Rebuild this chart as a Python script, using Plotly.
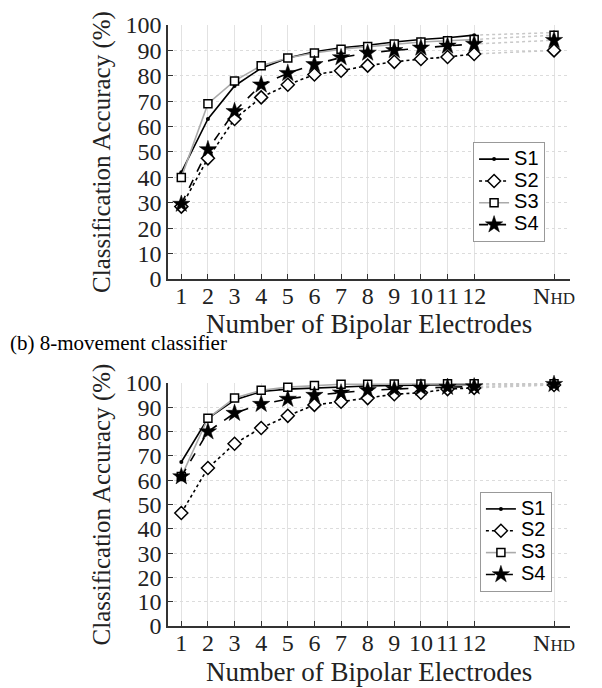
import plotly.graph_objects as go

# electrode counts (1..12) plus the high-density grid, drawn at position 15
n_electrodes = list(range(1, 13))
nhd_pos = 15
tick_vals = n_electrodes + [nhd_pos]
tick_text = [str(i) for i in n_electrodes] + ['N<span style="font-size:17px">HD</span>']

# (a) top panel
top_s1 = [42, 63, 76, 83, 87, 89.5, 91, 92, 93.3, 94.3, 95, 96]
top_s2 = [28.5, 47.5, 63, 71.5, 76.5, 80.5, 82, 84, 85.5, 86.6, 87.4, 88.6]
top_s3 = [40, 69, 78, 84, 87, 89, 90.5, 91.5, 92.5, 93.3, 93.8, 94.3]
top_s4 = [29.5, 51, 66, 76.5, 81, 84.5, 87.2, 89, 90, 91, 91.8, 92.5]
top_nhd = [97, 90, 96, 94]

# (b) 8-movement classifier
bot_s1 = [67.5, 85.5, 93, 96.5, 97.5, 98, 98.5, 98.8, 99, 99.2, 99.3, 99.4]
bot_s2 = [46.5, 65, 75, 81.5, 86.5, 91, 92.3, 93.8, 95.4, 96, 97.5, 98]
bot_s3 = [61.5, 85.5, 93.8, 97, 98.3, 99, 99.5, 99.5, 99.6, 99.6, 99.7, 99.7]
bot_s4 = [61.5, 80, 87.6, 91.3, 93.4, 95, 96, 97, 97.5, 98, 98.3, 98.5]
bot_nhd = [99.5, 99.2, 99.7, 99.5]

names = ['S1', 'S2', 'S3', 'S4']
styles = [
    dict(line=dict(color='black', width=1.6, dash='solid'),
         marker=dict(symbol='circle', size=4, color='black')),
    dict(line=dict(color='black', width=1.6, dash='dot'),
         marker=dict(symbol='diamond', size=10, color='white', line=dict(color='black', width=1.5))),
    dict(line=dict(color='#aaaaaa', width=1.6, dash='solid'),
         marker=dict(symbol='square', size=8, color='white', line=dict(color='black', width=1.5))),
    dict(line=dict(color='black', width=1.6, dash='dash'),
         marker=dict(symbol='star', size=13, color='black', line=dict(color='black', width=0.5))),
]

serif = 'Liberation Serif'
fig = go.Figure()

panels = [
    ('x', 'y', [top_s1, top_s2, top_s3, top_s4], top_nhd, 'legend'),
    ('x2', 'y2', [bot_s1, bot_s2, bot_s3, bot_s4], bot_nhd, 'legend2'),
]
for xa, ya, series, nhd, leg in panels:
    # dotted grey links from 12 electrodes to the HD grid
    for vals, v_nhd in zip(series, nhd):
        fig.add_trace(go.Scatter(x=[12, nhd_pos], y=[vals[-1], v_nhd], mode='lines',
                                 line=dict(color='#c8c8c8', width=1.5, dash='dot'),
                                 showlegend=False, hoverinfo='skip', xaxis=xa, yaxis=ya))
    for name, vals, v_nhd, st in zip(names, series, nhd, styles):
        fig.add_trace(go.Scatter(x=n_electrodes, y=vals, mode='lines+markers',
                                 name='<span style="font-size:20px">%s</span>' % name,
                                 line=st['line'], marker=st['marker'], legend=leg,
                                 cliponaxis=False, xaxis=xa, yaxis=ya))
        fig.add_trace(go.Scatter(x=[nhd_pos], y=[v_nhd], mode='markers', marker=st['marker'],
                                 showlegend=False, cliponaxis=False, xaxis=xa, yaxis=ya))

xaxis_style = dict(range=[0.5, 15.6], tickvals=tick_vals, ticktext=tick_text,
                   automargin=False,
                   showline=True, linecolor='#333333', linewidth=1.5,
                   ticks='inside', ticklen=5, tickcolor='#333333',
                   ticklabelstandoff=-6,
                   showgrid=True, gridcolor='#e2e2e2', gridwidth=1,
                   zeroline=False, tickfont=dict(family=serif, size=24, color='#222222'))
yaxis_style = dict(range=[0, 100], tickvals=list(range(0, 101, 10)),
                   automargin=False,
                   showline=True, linecolor='#333333', linewidth=1.5,
                   ticks='inside', ticklen=5, tickcolor='#333333',
                   showgrid=True, gridcolor='#dcdcdc', griddash='dot', gridwidth=1,
                   zeroline=False, tickfont=dict(family=serif, size=24, color='#222222'),
                   title=dict(text='Classification Accuracy (%)', standoff=8,
                              font=dict(family=serif, size=25, color='#222222')))

legend_style = dict(font=dict(family='Liberation Sans', size=14.5, color='black'),
                    bgcolor='white', bordercolor='#999999', borderwidth=1,
                    xanchor='right', yanchor='top', itemwidth=30, tracegroupgap=0)

xtitle_font = dict(family=serif, size=27, color='#222222')

# the page body adds an 8px offset, so the figure is laid out 8px smaller
fig.update_layout(
    width=594, height=680,
    margin=dict(l=160, r=32, t=17, b=62, autoexpand=False),
    plot_bgcolor='white', paper_bgcolor='white',
    xaxis=dict(xaxis_style, domain=[0, 1], anchor='y'),
    yaxis=dict(yaxis_style, domain=[0.5774, 1.0], anchor='x'),
    xaxis2=dict(xaxis_style, domain=[0, 1], anchor='y2'),
    yaxis2=dict(yaxis_style, domain=[0, 0.4043], anchor='x2'),
    legend=dict(legend_style, x=0.938, y=0.805),
    legend2=dict(legend_style, x=0.955, y=0.223),
    annotations=[
        dict(text='Number of Bipolar Electrodes', xref='paper', yref='paper',
             x=0.5, y=0.5025, xanchor='center', yanchor='middle', showarrow=False,
             font=xtitle_font),
        dict(text='Number of Bipolar Electrodes', xref='paper', yref='paper',
             x=0.5, y=-0.076, xanchor='center', yanchor='middle', showarrow=False,
             font=xtitle_font),
        dict(text='(b) 8-movement classifier', xref='paper', yref='paper',
             x=-0.398, y=0.471, xanchor='left', yanchor='middle', showarrow=False,
             font=dict(family=serif, size=21, color='black')),
    ],
)

fig.write_html("out.html")
